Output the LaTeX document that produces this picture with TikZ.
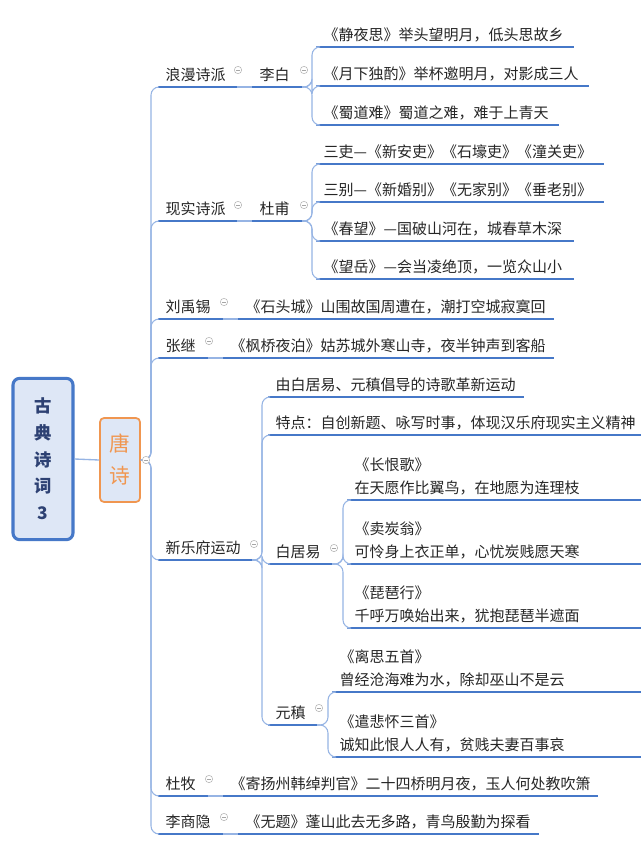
\documentclass[tikz,border=0pt]{standalone}
\usepackage{fontspec}
\setmainfont{Noto Sans CJK SC}
\definecolor{ulc}{RGB}{70,120,200}
\definecolor{brc}{RGB}{150,180,228}
\definecolor{rootfill}{RGB}{222,231,246}
\definecolor{rootdark}{RGB}{45,65,115}
\definecolor{org}{RGB}{240,150,80}
\begin{document}
\begin{tikzpicture}[x=0.75pt,y=-0.75pt,
  item/.style={anchor=south west, inner xsep=5.5pt, inner ysep=3.5pt, align=left,
    font=\fontsize{11.25}{17.25}\selectfont, text=black!85,
    append after command={(\tikzlastnode.south west) edge[ul] (\tikzlastnode.south east)}},
  ul/.style={draw=ulc, line width=1.6pt},
  br/.style={draw=brc, line width=0.8pt, rounded corners=6pt},
  fold/.style={circle, draw=black!30, fill=white, inner sep=0pt, minimum size=5.5pt, line width=0.4pt,
    path picture={\draw[black!35,line width=0.4pt] ([xshift=-1.5pt]path picture bounding box.center) -- ([xshift=1.5pt]path picture bounding box.center);}}]
\useasboundingbox (0,0) rectangle (640,849);
\fill[white] (0,0) rectangle (640,849);
% root
\node[draw=ulc, line width=2.3pt, fill=rootfill, rounded corners=5pt, minimum width=45pt, minimum height=121pt,
  text=rootdark, font=\fontsize{13}{20}\selectfont\bfseries, align=center] (root) at (43,459) {古\\典\\诗\\词\\3};
\node[draw=org, line width=1.3pt, fill=rootfill, rounded corners=3pt, minimum width=30pt, minimum height=63pt,
  text=org, font=\fontsize{15.5}{24}\selectfont, align=center] (ts) at (120,460) {唐\\诗};
\draw[brc, line width=1pt] (root.east) -- (ts.west);
% level 1
\newcommand{\Li}[5]{\node[item, text width={(#4-11)*0.75pt}] (#1) at (#2,#3) {#5};}
\Li{a1}{158}{87}{75}{浪漫诗派}
\Li{a2}{158}{221}{75}{现实诗派}
\Li{a3}{158}{319}{61}{刘禹锡}
\Li{a4}{158}{358}{46}{张继}
\Li{a5}{158}{560}{90}{新乐府运动}
\Li{a6}{158}{796}{46}{杜牧}
\Li{a7}{158}{834}{61}{李商隐}
% level 2
\Li{b1}{252}{87}{46}{李白}
\Li{b2}{252}{221}{46}{杜甫}
\Li{b3}{238}{319}{312}{《石头城》山围故国周遭在，潮打空城寂寞回}
\Li{b4}{223}{358}{327}{《枫桥夜泊》姑苏城外寒山寺，夜半钟声到客船}
\Li{b5}{268}{397}{252}{由白居易、元稹倡导的诗歌革新运动}
\Li{b6}{268}{435}{372}{特点：自创新题、咏写时事，体现汉乐府现实主义精神}
\Li{b7}{268}{564}{60}{白居易}
\Li{b8}{268}{725}{45}{元稹}
\Li{b9}{223}{796}{371}{《寄扬州韩绰判官》二十四桥明月夜，玉人何处教吹箫}
\Li{b10}{238}{834}{297}{《无题》蓬山此去无多路，青鸟殷勤为探看}
% level 3
\Li{c1}{316}{47}{254}{《静夜思》举头望明月，低头思故乡}
\Li{c2}{316}{86}{269}{《月下独酌》举杯邀明月，对影成三人}
\Li{c3}{316}{125}{239}{《蜀道难》蜀道之难，难于上青天}
\Li{c4}{316}{164}{284}{三吏—《新安吏》《石壕吏》《潼关吏》}
\Li{c5}{316}{202}{284}{三别—《新婚别》《无家别》《垂老别》}
\Li{c6}{316}{241}{254}{《春望》—国破山河在，城春草木深}
\Li{c7}{316}{279}{254}{《望岳》—会当凌绝顶，一览众山小}
\Li{c8}{347}{500}{293}{《长恨歌》\\在天愿作比翼鸟，在地愿为连理枝}
\Li{c9}{347}{564}{293}{《卖炭翁》\\可怜身上衣正单，心忧炭贱愿天寒}
\Li{c10}{347}{628}{293}{《琵琶行》\\千呼万唤始出来，犹抱琵琶半遮面}
\Li{c11}{332}{692}{308}{《离思五首》\\曾经沧海难为水，除却巫山不是云}
\Li{c12}{332}{757}{308}{《遣悲怀三首》\\诚知此恨人人有，贫贱夫妻百事哀}
% spine
\foreach \n in {a1,a2,a3,a4,a5,a6,a7}
  \draw[br] (ts.east) -- (151,460) -- (151,0 |- \n.south west) -- (\n.south west);
% straight links
\draw[br] (a1.south east) -- (b1.south west);
\draw[br] (a2.south east) -- (b2.south west);
\draw[br] (a3.south east) -- (b3.south west);
\draw[br] (a4.south east) -- (b4.south west);
\draw[br] (a6.south east) -- (b9.south west);
\draw[br] (a7.south east) -- (b10.south west);
% brackets
\foreach \n in {c1,c2,c3}
  \draw[br] (b1.south east) -- (312,87) -- (312,0 |- \n.south west) -- (\n.south west);
\foreach \n in {c4,c5,c6,c7}
  \draw[br] (b2.south east) -- (312,221) -- (312,0 |- \n.south west) -- (\n.south west);
\foreach \n in {b5,b6,b7,b8}
  \draw[br] (a5.south east) -- (262,560) -- (262,0 |- \n.south west) -- (\n.south west);
\foreach \n in {c8,c9,c10}
  \draw[br] (b7.south east) -- (343,564) -- (343,0 |- \n.south west) -- (\n.south west);
\foreach \n in {c11,c12}
  \draw[br] (b8.south east) -- (328,725) -- (328,0 |- \n.south west) -- (\n.south west);
% fold markers
\node[fold] (f0) at (146,460) {};
\node[fold] (f1) at (238,70) {};
\node[fold] (f2) at (304,70) {};
\node[fold] (f3) at (238,205) {};
\node[fold] (f4) at (304,205) {};
\node[fold] (f5) at (224,302) {};
\node[fold] (f6) at (209,341) {};
\node[fold] (f7) at (254,544) {};
\node[fold] (f8) at (334,548) {};
\node[fold] (f9) at (319,708) {};
\node[fold] (f10) at (209,779) {};
\node[fold] (f11) at (224,817) {};
\end{tikzpicture}
\end{document}
